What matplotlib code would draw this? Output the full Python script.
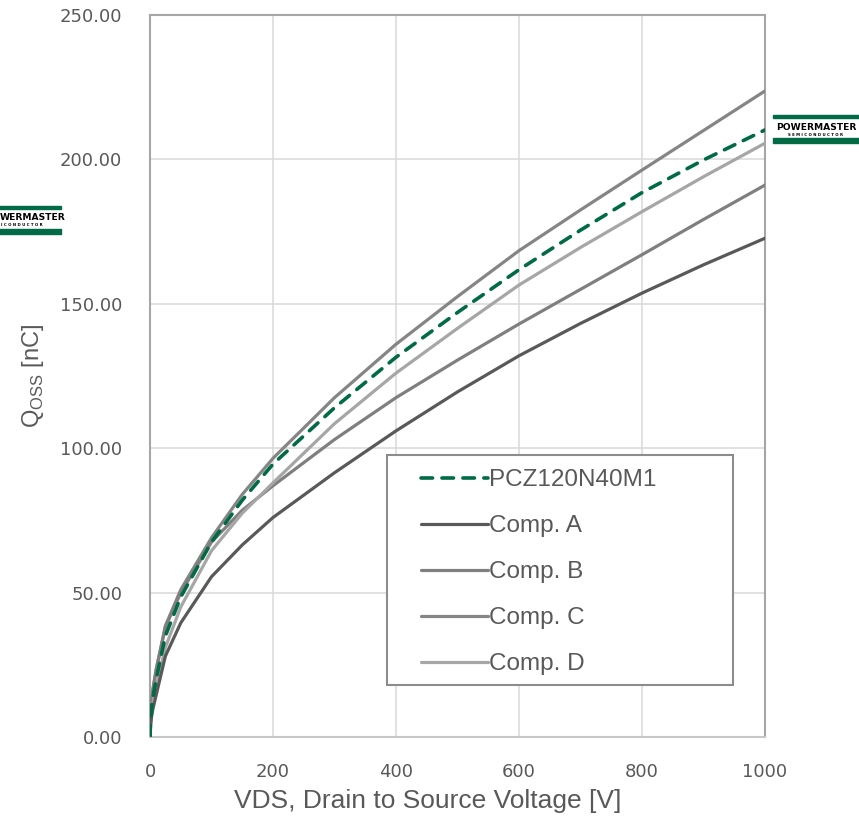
import numpy as np
import matplotlib
matplotlib.use("Agg")
import matplotlib.pyplot as plt
from matplotlib.patches import Rectangle
from matplotlib.ticker import FormatStrFormatter

# Output charge vs drain-source voltage
vds = [0, 1, 2.5, 5, 10, 25, 50, 100, 150, 200, 300, 400, 500, 600, 700, 800, 900, 1000]
q_pcz = [0, 6, 10, 14, 20, 35, 48.5, 67.5, 82, 94.5, 114, 131.5, 147, 161.8, 175.5, 188.5, 199.8, 210.2]
q_a = [0, 4, 7, 10, 14.5, 28, 39.5, 55.5, 66.5, 76, 91.5, 106, 119.5, 132, 143.2, 153.7, 163.5, 172.7]
q_b = [0, 7, 12, 17, 23.5, 38, 50, 67.5, 78.5, 87, 103, 117.5, 130.5, 143, 155, 167, 179.2, 191.1]
q_c = [0, 7, 11.5, 16.5, 23, 38.5, 51, 69, 84, 96.5, 117.5, 136, 152.5, 168.4, 182.5, 196.3, 210, 223.7]
q_d = [0, 5, 8.5, 12, 17.5, 31, 45, 64.5, 77.5, 88, 108.5, 126, 141.5, 156.5, 169.5, 181.9, 194, 205.6]

labels = ["PCZ120N40M1", "Comp. A", "Comp. B", "Comp. C", "Comp. D"]
x_ticks = [0, 200, 400, 600, 800, 1000]
y_ticks = [0, 50, 100, 150, 200, 250]

GREEN = "#006B45"
TXT = "#595959"

W, H = 859, 824
fig = plt.figure(figsize=(W / 100, H / 100), dpi=100)
ax = fig.add_axes([150 / W, 1 - 737 / H, 615 / W, 722 / H])

lw = 2.3
l_c, = ax.plot(vds, q_c, color="#858585", lw=lw, solid_capstyle="round", zorder=3)
l_b, = ax.plot(vds, q_b, color="#7f7f7f", lw=lw, solid_capstyle="round", zorder=3)
l_d, = ax.plot(vds, q_d, color="#a6a6a6", lw=lw, solid_capstyle="round", zorder=3)
l_a, = ax.plot(vds, q_a, color="#595959", lw=lw, solid_capstyle="round", zorder=3)
l_p, = ax.plot(vds, q_pcz, color=GREEN, lw=2.6, ls=(0, (3.2, 2.6)),
               dash_capstyle="round", zorder=4)

ax.set_xlim(0, 1000)
ax.set_ylim(0, 250)
ax.set_xticks(x_ticks)
ax.set_yticks(y_ticks)
ax.yaxis.set_major_formatter(FormatStrFormatter("%.2f"))
ax.tick_params(length=0, labelsize=13, labelcolor=TXT)
ax.tick_params(axis="y", pad=20)
ax.tick_params(axis="x", pad=19)
ax.grid(True, color="#d9d9d9", lw=1.1, zorder=0)
ax.set_axisbelow(True)
for s in ["left", "top", "right"]:
    ax.spines[s].set_color("#a6a6a6")
    ax.spines[s].set_linewidth(1.5)
ax.spines["bottom"].set_color("#c8c8c8")
ax.spines["bottom"].set_linewidth(1.5)

fig.text(33 / W, 1 - 376 / H, r"Q$_{\mathregular{OSS}}$ [nC]", fontsize=17,
         color=TXT, family="Liberation Sans", rotation=90, ha="center",
         va="center")
fig.text(428 / W, 1 - 801 / H, "VDS, Drain to Source Voltage [V]", fontsize=19,
         color=TXT, family="Liberation Sans", ha="center", va="center")

# legend box drawn by hand, entries placed inside without frame
def ax_px(x, y):
    return (x - 150) / 615, (737 - y) / 722

bx0, by1 = ax_px(387, 685)
bx1, by0 = ax_px(733, 455)
ax.add_patch(Rectangle((bx0, by1), bx1 - bx0, by0 - by1, transform=ax.transAxes,
                       facecolor="white", edgecolor="#8c8c8c", lw=1.5, zorder=5))
lx, ly = ax_px(421, 469)
leg = ax.legend([l_p, l_a, l_b, l_c, l_d], labels, loc="upper left",
                bbox_to_anchor=(lx, ly), frameon=False, handlelength=2.75,
                handletextpad=0.05, labelspacing=0.99, borderpad=0,
                borderaxespad=0, prop={"family": "Liberation Sans", "size": 17.5})
for t in leg.get_texts():
    t.set_color(TXT)
leg.set_zorder(6)


def draw_logo(x0, y0, w=86, h=28, cut=False):
    # x0, y0: top-left corner in pixels
    fx = lambda x: x / W
    fy = lambda y: 1 - y / H
    fig.patches.append(Rectangle((fx(x0), fy(y0 + 3.3)), w / W, 3.3 / H,
                                 transform=fig.transFigure, color=GREEN))
    fig.patches.append(Rectangle((fx(x0), fy(y0 + h)), w / W, 5 / H,
                                 transform=fig.transFigure, color=GREEN))
    if cut:
        # left copy sits partly off the page, only its tail shows
        fig.text(fx(0), fy(y0 + 12), "WERMASTER", fontsize=6.6, weight="bold",
                 family="DejaVu Sans", ha="left", va="center", color="black")
        fig.text(fx(1), fy(y0 + 19.5), "I C O N D U C T O R", fontsize=2.8,
                 weight="bold", family="DejaVu Sans", ha="left", va="center",
                 color="black")
    else:
        fig.text(fx(x0 + w / 2), fy(y0 + 12), "POWERMASTER", fontsize=6.6,
                 weight="bold", family="DejaVu Sans", ha="center", va="center",
                 color="black")
        fig.text(fx(x0 + w / 2), fy(y0 + 19.5), "S E M I C O N D U C T O R",
                 fontsize=2.8, weight="bold", family="DejaVu Sans", ha="center",
                 va="center", color="black")


draw_logo(773, 115)
draw_logo(-25, 206, cut=True)

fig.savefig("out.png", dpi=100)
